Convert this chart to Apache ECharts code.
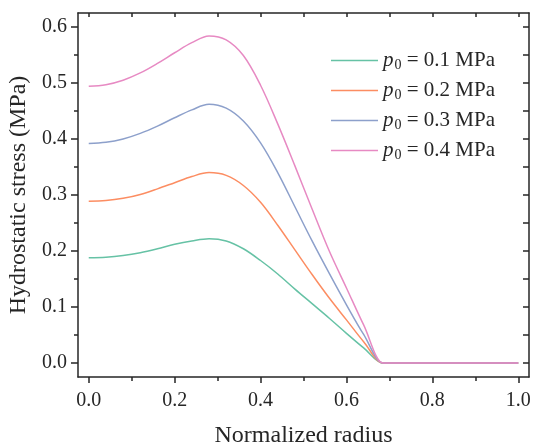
<!DOCTYPE html>
<html>
<head>
<meta charset="utf-8">
<script src="https://cdn.jsdelivr.net/npm/echarts@6/dist/echarts.min.js"></script>
<style>
  html, body { margin: 0; padding: 0; background: #fff; }
  #chart { width: 534px; height: 444px; }
</style>
</head>
<body>
<div id="chart"></div>
<script>
// normalized radius sample positions
const radius = [0, 0.04, 0.08, 0.12, 0.16, 0.2, 0.24, 0.28, 0.32, 0.36, 0.4, 0.44, 0.48, 0.52, 0.56, 0.6, 0.64, 0.685, 0.69, 0.8, 0.9, 1.0];

// hydrostatic stress (MPa), one array per p0
const stress01 = [0.188, 0.189, 0.192, 0.197, 0.204, 0.212, 0.218, 0.222, 0.218, 0.204, 0.183, 0.159, 0.132, 0.106, 0.080, 0.053, 0.027, 0, 0, 0, 0, 0];
const stress02 = [0.289, 0.290, 0.294, 0.301, 0.311, 0.322, 0.333, 0.340, 0.335, 0.317, 0.287, 0.246, 0.202, 0.158, 0.116, 0.077, 0.038, 0, 0, 0, 0, 0];
const stress03 = [0.392, 0.394, 0.400, 0.410, 0.423, 0.438, 0.452, 0.462, 0.455, 0.432, 0.393, 0.340, 0.279, 0.218, 0.160, 0.104, 0.051, 0, 0, 0, 0, 0];
const stress04 = [0.494, 0.497, 0.505, 0.518, 0.535, 0.554, 0.572, 0.584, 0.577, 0.549, 0.496, 0.427, 0.352, 0.275, 0.200, 0.134, 0.068, 0, 0, 0, 0, 0];

const pressures = ['0.1', '0.2', '0.3', '0.4'];
const colors = ['#66c2a5', '#fc8d62', '#8da0cb', '#e78ac3'];

const xMajor = [0, 0.2, 0.4, 0.6, 0.8, 1.0];
const xMinor = [0.1, 0.3, 0.5, 0.7, 0.9];
const yMajor = [0, 0.1, 0.2, 0.3, 0.4, 0.5, 0.6];
const yMinor = [0.05, 0.15, 0.25, 0.35, 0.45, 0.55];

const font = 'Liberation Serif';
const ink = '#262626';

const pair = (ys) => radius.map((x, i) => [x, ys[i]]);
const allStress = [stress01, stress02, stress03, stress04];

const chart = echarts.init(document.getElementById('chart'));

const noLabel = { show: false };
const noSplit = { show: false };
const frame = { show: true, onZero: false, lineStyle: { color: ink, width: 1.5 } };
const hidden = { show: false, onZero: false };
const tickLine = { color: ink, width: 1.5 };

chart.setOption({
  animation: false,
  color: colors,
  grid: { left: 78, right: 5, top: 13, bottom: 67, outerBoundsMode: 'none' },
  legend: {
    orient: 'vertical',
    left: 331,
    top: 49,
    padding: 0,
    icon: 'rect',
    itemWidth: 47,
    itemHeight: 1.5,
    itemGap: 7,
    data: pressures,
    formatter: (name) => '{i|p}{s|0}{t| = ' + name + ' MPa}',
    textStyle: {
      fontFamily: font,
      color: ink,
      rich: {
        i: { fontFamily: font, fontStyle: 'italic', fontSize: 21, color: ink, lineHeight: 22 },
        s: { fontFamily: font, fontSize: 14, color: ink, lineHeight: 22, padding: [9, 0, 0, 1] },
        t: { fontFamily: font, fontSize: 21, color: ink, lineHeight: 22 }
      }
    }
  },
  xAxis: [
    {
      type: 'value', position: 'bottom', min: -0.025, max: 1.025,
      name: 'Normalized radius', nameLocation: 'middle', nameGap: 47,
      nameTextStyle: { fontFamily: font, fontSize: 24, color: ink },
      axisLine: frame,
      axisTick: { show: true, length: 6, customValues: xMajor, lineStyle: tickLine },
      axisLabel: { customValues: xMajor, margin: 14, fontFamily: font, fontSize: 20, color: ink,
        formatter: (v) => v.toFixed(1) },
      splitLine: noSplit
    },
    {
      type: 'value', position: 'bottom', min: -0.025, max: 1.025,
      axisLine: hidden,
      axisTick: { show: true, length: 4, customValues: xMinor, lineStyle: tickLine },
      axisLabel: noLabel, splitLine: noSplit
    },
    {
      type: 'value', position: 'top', min: -0.025, max: 1.025,
      axisLine: frame,
      axisTick: { show: true, inside: true, length: 4, customValues: xMajor.concat(xMinor), lineStyle: tickLine },
      axisLabel: noLabel, splitLine: noSplit
    }
  ],
  yAxis: [
    {
      type: 'value', position: 'left', min: -0.025, max: 0.625,
      name: 'Hydrostatic stress (MPa)', nameLocation: 'middle', nameGap: 37,
      nameTextStyle: { fontFamily: font, fontSize: 24, color: ink },
      axisLine: frame,
      axisTick: { show: true, length: 7, customValues: yMajor, lineStyle: tickLine },
      axisLabel: { customValues: yMajor, margin: 11, fontFamily: font, fontSize: 20, color: ink,
        formatter: (v) => v.toFixed(1) },
      splitLine: noSplit
    },
    {
      type: 'value', position: 'left', min: -0.025, max: 0.625,
      axisLine: hidden,
      axisTick: { show: true, length: 4, customValues: yMinor, lineStyle: tickLine },
      axisLabel: noLabel, splitLine: noSplit
    },
    {
      type: 'value', position: 'right', min: -0.025, max: 0.625,
      axisLine: frame,
      axisTick: { show: true, inside: true, length: 6, customValues: yMajor.concat(yMinor), lineStyle: tickLine },
      axisLabel: noLabel, splitLine: noSplit
    }
  ],
  series: pressures.map((p, i) => ({
    name: p,
    type: 'line',
    xAxisIndex: 0,
    yAxisIndex: 0,
    data: pair(allStress[i]),
    symbol: 'none',
    smooth: 0.35,
    lineStyle: { width: 1.5 }
  }))
});
</script>
</body>
</html>
